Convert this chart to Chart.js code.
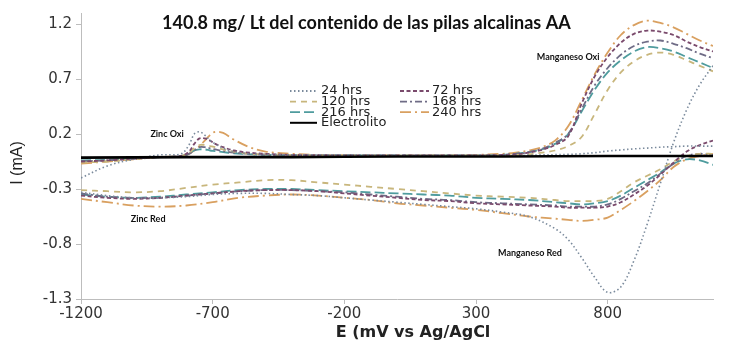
<!DOCTYPE html>
<html>
<head>
<meta charset="utf-8">
<script src="https://cdn.jsdelivr.net/npm/chart.js@4.4.1/dist/chart.umd.min.js"></script>
<style>
  html, body { margin: 0; padding: 0; background: #fff; }
  #wrap { width: 739px; height: 354px; }
</style>
</head>
<body>
<div id="wrap"><canvas id="cv"></canvas></div>
<script>
// potential grids (mV vs Ag/AgCl)
const eOx  = [-1200, -1100, -1000, -900, -820, -790, -770, -750, -730, -710, -690, -660, -620, -560, -500, -400, -300, -200, -100, 0, 100, 200, 300, 400, 450, 500, 550, 600, 650, 700, 750, 800, 850, 900, 950, 1000, 1050, 1100, 1150, 1200];
const eRed = [-1200, -1100, -1000, -900, -800, -700, -600, -500, -400, -300, -200, -100, 0, 100, 200, 300, 400, 500, 600, 650, 700, 750, 800, 850, 900, 950, 1000, 1050, 1100, 1150, 1200];

// current (mA), oxidation branch
const ox24  = [-0.2, -0.09, -0.03, 0.01, 0.02, 0.1, 0.2, 0.22, 0.19, 0.14, 0.11, 0.07, 0.04, 0.02, 0.015, 0.01, 0.01, 0.01, 0.01, 0.005, 0.005, 0.005, 0.005, 0.005, 0.005, 0.008, 0.01, 0.012, 0.015, 0.02, 0.03, 0.045, 0.055, 0.065, 0.072, 0.08, 0.085, 0.09, 0.09, 0.09];
const ox72  = [-0.05, -0.04, -0.025, -0.01, 0.0, 0.04, 0.11, 0.16, 0.16, 0.14, 0.11, 0.08, 0.05, 0.03, 0.02, 0.01, 0.008, 0.005, 0.005, 0.005, 0.005, 0.005, 0.005, 0.01, 0.015, 0.03, 0.055, 0.1, 0.18, 0.47, 0.72, 0.9, 1.03, 1.11, 1.14, 1.13, 1.1, 1.04, 0.99, 0.95];
const ox120 = [-0.06, -0.05, -0.03, -0.01, 0.0, 0.03, 0.07, 0.1, 0.1, 0.09, 0.08, 0.06, 0.04, 0.02, 0.015, 0.01, 0.005, 0.005, 0.005, 0.005, 0.005, 0.005, 0.005, 0.005, 0.01, 0.015, 0.03, 0.05, 0.09, 0.17, 0.38, 0.6, 0.76, 0.86, 0.92, 0.94, 0.92, 0.87, 0.82, 0.77];
const ox168 = [-0.05, -0.04, -0.025, -0.01, 0.0, 0.02, 0.05, 0.08, 0.08, 0.07, 0.06, 0.045, 0.03, 0.02, 0.01, 0.008, 0.005, 0.005, 0.005, 0.005, 0.005, 0.005, 0.005, 0.01, 0.02, 0.035, 0.065, 0.12, 0.2, 0.42, 0.64, 0.8, 0.92, 1.0, 1.04, 1.05, 1.02, 0.98, 0.93, 0.89];
const ox216 = [-0.04, -0.035, -0.02, -0.01, 0.0, 0.02, 0.05, 0.06, 0.06, 0.05, 0.045, 0.035, 0.025, 0.015, 0.01, 0.008, 0.005, 0.005, 0.005, 0.005, 0.005, 0.005, 0.005, 0.01, 0.02, 0.035, 0.06, 0.11, 0.2, 0.4, 0.6, 0.76, 0.87, 0.95, 0.99, 0.98, 0.95, 0.9, 0.85, 0.8];
const ox240 = [-0.07, -0.05, -0.03, -0.01, 0.0, 0.02, 0.05, 0.09, 0.14, 0.19, 0.22, 0.21, 0.15, 0.08, 0.04, 0.02, 0.01, 0.008, 0.005, 0.005, 0.005, 0.005, 0.01, 0.02, 0.03, 0.05, 0.08, 0.14, 0.27, 0.5, 0.74, 0.94, 1.1, 1.19, 1.23, 1.21, 1.17, 1.11, 1.05, 1.0];

// current (mA), reduction branch
const red24  = [-0.33, -0.36, -0.38, -0.38, -0.37, -0.35, -0.34, -0.34, -0.35, -0.36, -0.38, -0.40, -0.42, -0.44, -0.46, -0.48, -0.51, -0.55, -0.66, -0.76, -0.92, -1.10, -1.24, -1.19, -0.95, -0.62, -0.25, 0.12, 0.42, 0.65, 0.82];
const red72  = [-0.36, -0.38, -0.39, -0.38, -0.36, -0.34, -0.32, -0.31, -0.31, -0.32, -0.34, -0.36, -0.38, -0.40, -0.41, -0.43, -0.44, -0.45, -0.46, -0.47, -0.47, -0.47, -0.46, -0.42, -0.35, -0.27, -0.17, -0.06, 0.04, 0.1, 0.14];
const red120 = [-0.31, -0.32, -0.33, -0.32, -0.29, -0.26, -0.24, -0.22, -0.22, -0.24, -0.26, -0.28, -0.30, -0.32, -0.34, -0.36, -0.37, -0.38, -0.40, -0.41, -0.41, -0.41, -0.39, -0.32, -0.24, -0.18, -0.12, -0.05, 0.0, 0.02, 0.02];
const red168 = [-0.34, -0.37, -0.38, -0.38, -0.36, -0.34, -0.32, -0.31, -0.31, -0.32, -0.33, -0.35, -0.37, -0.39, -0.40, -0.42, -0.43, -0.44, -0.45, -0.46, -0.46, -0.46, -0.44, -0.39, -0.32, -0.25, -0.16, -0.07, 0.0, 0.02, 0.01];
const red216 = [-0.35, -0.37, -0.38, -0.37, -0.35, -0.33, -0.31, -0.30, -0.30, -0.31, -0.32, -0.33, -0.34, -0.35, -0.36, -0.38, -0.39, -0.40, -0.42, -0.43, -0.44, -0.43, -0.41, -0.36, -0.29, -0.22, -0.15, -0.07, -0.03, -0.04, -0.08];
const red240 = [-0.39, -0.42, -0.45, -0.46, -0.45, -0.42, -0.38, -0.36, -0.35, -0.36, -0.38, -0.40, -0.43, -0.45, -0.47, -0.49, -0.52, -0.55, -0.57, -0.58, -0.59, -0.58, -0.56, -0.49, -0.41, -0.32, -0.22, -0.10, -0.03, 0.0, 0.02];

// electrolyte blank
const elecE = [-1200, -800, -400, 0, 400, 800, 1200];
const elecI = [-0.015, -0.01, -0.01, -0.005, -0.005, 0.0, 0.0];

const xTicks = [-1200, -700, -200, 300, 800];
const yTicks = [-1.3, -0.8, -0.3, 0.2, 0.7, 1.2];

const titleText = '140.8 mg/ Lt del contenido de las pilas alcalinas AA';
const notes = [
  { text: 'Zinc Oxi', x: -873, y: 0.2 },
  { text: 'Zinc Red', x: -945, y: -0.57 },
  { text: 'Manganeso Oxi', x: 650, y: 0.9 },
  { text: 'Manganeso Red', x: 505, y: -0.88 }
];

const series = [
  { label: '24 hrs',  ox: ox24,  red: red24,  color: '#7a8a9c', dash: [1.5, 2.5], width: 1.6 },
  { label: '72 hrs',  ox: ox72,  red: red72,  color: '#7a4a6c', dash: [4, 2.5], width: 1.8 },
  { label: '120 hrs', ox: ox120, red: red120, color: '#c8b67c', dash: [6, 5], width: 1.8 },
  { label: '168 hrs', ox: ox168, red: red168, color: '#6f6c86', dash: [7, 3, 2, 3], width: 1.8 },
  { label: '216 hrs', ox: ox216, red: red216, color: '#4f9c9e', dash: [10, 4], width: 1.8 },
  { label: '240 hrs', ox: ox240, red: red240, color: '#d9a060', dash: [11, 4, 2, 4], width: 1.8 }
];
const elec = { label: 'Electrolito', color: '#000000', dash: [], width: 2.6 };

function pts(xs, ys) {
  return xs.map((x, i) => ({ x: x, y: ys[i] }));
}
function branch(s, xs, ys) {
  return {
    label: s.label, data: pts(xs, ys), showLine: true, fill: false,
    borderColor: s.color, borderWidth: s.width, borderDash: s.dash,
    pointRadius: 0, tension: 0.35
  };
}

let datasets = [branch(elec, elecE, elecI)];
series.forEach(s => {
  datasets.push(branch(s, eOx, s.ox));
  datasets.push(branch(s, eRed, s.red));
});

// legend: two columns inside the plot
const legendCols = [
  { lineX: 290, lineW: 27, textX: 321, items: ['24 hrs', '120 hrs', '216 hrs', 'Electrolito'] },
  { lineX: 400, lineW: 29, textX: 432, items: ['72 hrs', '168 hrs', '240 hrs'] }
];

const textPlugin = {
  id: 'texts',
  afterDraw(chart) {
    const ctx = chart.ctx;
    const xs = chart.scales.x, ys = chart.scales.y;
    ctx.save();

    // title
    ctx.fillStyle = '#111';
    ctx.font = 'bold 18px Lato';
    ctx.textAlign = 'left';
    ctx.textBaseline = 'alphabetic';
    ctx.fillText(titleText, 162, 29);

    // axis titles
    ctx.font = 'bold 16px "DejaVu Sans"';
    ctx.textAlign = 'center';
    ctx.textBaseline = 'middle';
    ctx.fillStyle = '#222';
    ctx.fillText('E (mV vs Ag/AgCl', 413, 333);

    ctx.save();
    ctx.translate(18, 163);
    ctx.rotate(-Math.PI / 2);
    ctx.font = '16px "Liberation Sans"';
    ctx.fillText('I (mA)', 0, 0);
    ctx.restore();

    // peak notes
    ctx.font = 'bold 9px Lato';
    ctx.fillStyle = '#111';
    notes.forEach(n => {
      ctx.fillText(n.text, xs.getPixelForValue(n.x), ys.getPixelForValue(n.y));
    });

    // legend
    const all = series.concat([elec]);
    ctx.font = '13px "DejaVu Sans"';
    ctx.textAlign = 'left';
    legendCols.forEach(col => {
      col.items.forEach((name, r) => {
        const s = all.find(a => a.label === name);
        const y = 91 + r * 10.6;
        ctx.beginPath();
        ctx.strokeStyle = s.color;
        ctx.lineWidth = s.label === 'Electrolito' ? 2 : 1.8;
        ctx.setLineDash(s.dash);
        ctx.moveTo(col.lineX, y);
        ctx.lineTo(col.lineX + col.lineW, y);
        ctx.stroke();
        ctx.setLineDash([]);
        ctx.fillStyle = '#222';
        ctx.fillText(name, col.textX, y);
      });
    });
    ctx.restore();
  }
};

const axisColor = '#bdbdbd';
new Chart(document.getElementById('cv'), {
  type: 'scatter',
  data: { datasets: datasets },
  options: {
    responsive: true,
    maintainAspectRatio: false,
    animation: false,
    devicePixelRatio: 1,
    layout: { padding: { top: 10, right: 26, left: 0, bottom: 0 } },
    plugins: { legend: { display: false }, tooltip: { enabled: false } },
    scales: {
      x: {
        type: 'linear', min: -1200, max: 1200,
        afterBuildTicks: s => { s.ticks = xTicks.map(v => ({ value: v })); },
        afterFit: s => { s.height = 55; },
        ticks: { font: { family: 'DejaVu Sans', size: 15 }, color: '#333', padding: 1, maxRotation: 0, autoSkip: false,
                 callback: v => String(v) },
        grid: { drawOnChartArea: false, drawTicks: true, tickLength: 5, color: axisColor },
        border: { color: axisColor, width: 1 }
      },
      y: {
        type: 'linear', min: -1.3, max: 1.3,
        afterBuildTicks: s => { s.ticks = yTicks.map(v => ({ value: v })); },
        afterFit: s => { s.width = 81; },
        ticks: { font: { family: 'DejaVu Sans', size: 15 }, color: '#333', padding: 4,
                 callback: v => v.toFixed(1) },
        grid: { drawOnChartArea: false, drawTicks: true, tickLength: 5, color: axisColor },
        border: { color: axisColor, width: 1 }
      }
    }
  },
  plugins: [textPlugin]
});
</script>
</body>
</html>
